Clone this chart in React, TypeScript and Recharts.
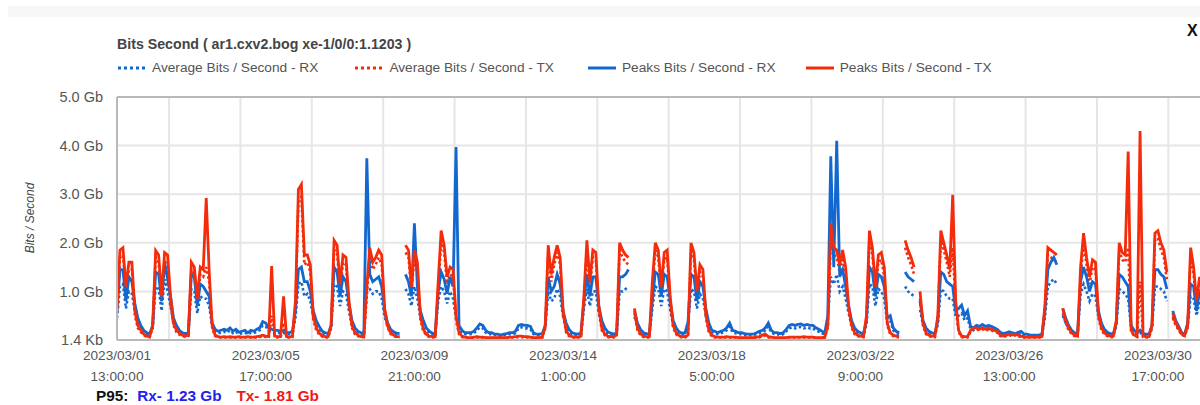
import { CartesianGrid, Line, LineChart, ReferenceLine, XAxis, YAxis } from 'recharts'

// hours counted from 2023-03-01 00:00, one sample every 2 hours
const START_HOUR = 13
const STEP_HOURS = 2
const END_HOUR = 741.3

const xTicks = [13, 113, 213, 313, 413, 513, 613, 713]
const xTickDates = ['2023/03/01', '2023/03/05', '2023/03/09', '2023/03/14', '2023/03/18', '2023/03/22', '2023/03/26', '2023/03/30']
const xTickTimes = ['13:00:00', '17:00:00', '21:00:00', '1:00:00', '5:00:00', '9:00:00', '13:00:00', '17:00:00']
// midnight of every other day (03/03 ... 03/31)
const gridHours = [48, 96, 144, 192, 240, 288, 336, 384, 432, 480, 528, 576, 624, 672, 720]
const yTicks = [0, 1, 2, 3, 4, 5]
const yTickLabels = ['1.4 Kb', '1.0 Gb', '2.0 Gb', '3.0 Gb', '4.0 Gb', '5.0 Gb']

// Gb, rows = days, columns = 01,03,...,23 h (03/01 starts at 13h, 03/31 ends at 21h)
const peakTx = [
  0.65, 1.85, 1.9, 1.1, 1.6, 1.6,
  0.6, 0.3, 0.2, 0.12, 0.08, 0.07, 0.3, 1.84, 1.75, 0.9, 1.8, 1.75,
  0.9, 0.35, 0.2, 0.14, 0.1, 0.08, 0.1, 1.6, 1.5, 0.85, 1.5, 1.45,
  2.92, 1.4, 0.3, 0.1, 0.07, 0.06, 0.07, 0.06, 0.07, 0.06, 0.06, 0.07,
  0.06, 0.06, 0.07, 0.06, 0.06, 0.07, 0.08, 0.1, 0.08, 0.07, 1.52, 0.08,
  0.07, 0.07, 0.9, 0.07, 0.06, 0.08, 0.8, 3.1, 3.2, 1.75, 1.75, 1.55,
  0.5, 0.25, 0.14, 0.09, 0.07, 0.07, 0.3, 2.05, 1.95, 1.15, 1.75, 1.7,
  0.8, 0.3, 0.15, 0.1, 0.07, 0.07, 1.1, 1.9, 1.6, 1.7, 1.85, 1.75,
  0.65, 0.3, 0.15, 0.1, 0.07, 0.07, null, 1.95, 1.85, 1.1, 1.85, 1.6,
  0.5, 0.22, 0.12, 0.08, 0.07, 0.07, 1.2, 2.25, 1.95, 1.3, 1.5, 1.45,
  0.5, 0.15, 0.08, 0.06, 0.05, 0.05, 0.06, 0.07, 0.06, 0.06, 0.05, 0.05,
  0.05, 0.05, 0.05, 0.05, 0.05, 0.05, 0.06, 0.06, 0.07, 0.08, 0.08, 0.07,
  0.07, 0.06, 0.05, 0.05, 0.05, 0.06, 0.3, 1.95, 1.35, 1.7, 1.95, 1.7,
  0.6, 0.2, 0.1, 0.07, 0.06, 0.06, 0.08, 0.9, 2.05, 1.2, 1.85, 1.8,
  0.7, 0.25, 0.12, 0.08, 0.07, 0.07, 0.1, 2.0, 1.85, 1.75, 1.7, null,
  0.65, 0.25, 0.13, 0.08, 0.07, 0.07, 1.2, 2.0, 1.85, 1.1, 1.8, 1.85,
  0.9, 0.3, 0.15, 0.09, 0.07, 0.07, 0.1, 2.0, 1.8, 1.0, 1.55, 1.45,
  0.55, 0.2, 0.1, 0.07, 0.06, 0.06, 0.06, 0.07, 0.06, 0.06, 0.06, 0.05,
  0.05, 0.05, 0.05, 0.05, 0.05, 0.06, 0.07, 0.1, 0.12, 0.07, 0.06, 0.05,
  0.05, 0.05, 0.05, 0.05, 0.06, 0.06, 0.06, 0.06, 0.06, 0.07, 0.06, 0.06,
  0.06, 0.05, 0.05, 0.05, 0.06, 0.3, 2.4, 1.9, 1.85, 1.55, 1.85, 1.5,
  0.7, 0.3, 0.15, 0.1, 0.08, 0.07, 0.5, 2.25, 1.9, 1.1, 1.75, 1.8,
  1.5, 0.35, 0.15, 0.1, 0.08, 0.08, null, 2.05, 1.85, 1.7, 1.5, null,
  1.0, 0.35, 0.15, 0.1, 0.08, 0.08, 0.5, 2.25, 2.0, 1.75, 1.45, 2.99,
  0.8, 0.2, 0.08, 0.07, 0.07, 0.2, 0.25, 0.25, 0.22, 0.25, 0.22, 0.24,
  0.22, 0.2, 0.18, 0.1, 0.08, 0.1, 0.12, 0.1, 0.12, 0.1, 0.08, 0.06,
  0.06, 0.06, 0.06, 0.06, 0.06, 0.07, 0.7, 1.9, 1.85, 1.8, 1.75, null,
  0.65, 0.4, 0.25, 0.15, 0.1, 0.08, 1.5, 2.2, 1.7, 1.3, 1.65, 1.6,
  0.55, 0.25, 0.15, 0.1, 0.08, 0.08, 0.4, 2.0, 1.8, 1.75, 3.88, 0.2,
  0.1, 0.08, 4.3, 0.08, 0.07, 0.07, 0.3, 2.2, 2.25, 2.0, 1.85, 1.4,
  null, 0.55, 0.35, 0.25, 0.12, 0.1, 0.3, 1.9, 1.5, 0.8, 1.3,
]

const avgTx = [
  0.55, 1.7, 1.75, 1.0, 1.45, 1.45,
  0.5, 0.25, 0.16, 0.1, 0.06, 0.06, 0.25, 1.7, 1.6, 0.8, 1.65, 1.6,
  0.75, 0.3, 0.16, 0.11, 0.08, 0.06, 0.08, 1.45, 1.35, 0.75, 1.35, 1.3,
  1.5, 1.2, 0.25, 0.08, 0.05, 0.05, 0.05, 0.05, 0.05, 0.05, 0.05, 0.05,
  0.05, 0.05, 0.05, 0.05, 0.05, 0.05, 0.06, 0.08, 0.06, 0.05, 0.5, 0.06,
  0.05, 0.05, 0.35, 0.05, 0.05, 0.06, 0.65, 2.85, 2.95, 1.55, 1.6, 1.4,
  0.42, 0.2, 0.11, 0.07, 0.05, 0.05, 0.25, 1.85, 1.8, 1.0, 1.6, 1.55,
  0.65, 0.25, 0.12, 0.08, 0.06, 0.06, 0.9, 1.75, 1.45, 1.55, 1.7, 1.55,
  0.55, 0.25, 0.12, 0.08, 0.06, 0.06, null, 1.8, 1.7, 1.0, 1.7, 1.45,
  0.42, 0.18, 0.1, 0.06, 0.05, 0.05, 1.0, 2.05, 1.8, 1.15, 1.35, 1.3,
  0.4, 0.12, 0.06, 0.05, 0.04, 0.04, 0.05, 0.05, 0.05, 0.05, 0.04, 0.04,
  0.04, 0.04, 0.04, 0.04, 0.04, 0.04, 0.05, 0.05, 0.05, 0.06, 0.06, 0.05,
  0.05, 0.05, 0.04, 0.04, 0.04, 0.05, 0.25, 1.8, 1.2, 1.55, 1.8, 1.55,
  0.5, 0.16, 0.08, 0.05, 0.05, 0.05, 0.06, 0.75, 1.9, 1.05, 1.7, 1.65,
  0.58, 0.2, 0.1, 0.06, 0.05, 0.05, 0.08, 1.85, 1.7, 1.6, 1.55, null,
  0.55, 0.2, 0.1, 0.06, 0.05, 0.05, 1.0, 1.85, 1.7, 1.0, 1.65, 1.7,
  0.75, 0.25, 0.12, 0.07, 0.05, 0.05, 0.08, 1.85, 1.65, 0.9, 1.4, 1.3,
  0.45, 0.16, 0.08, 0.05, 0.05, 0.05, 0.05, 0.05, 0.05, 0.05, 0.05, 0.04,
  0.04, 0.04, 0.04, 0.04, 0.04, 0.05, 0.05, 0.08, 0.09, 0.05, 0.05, 0.04,
  0.04, 0.04, 0.04, 0.04, 0.05, 0.05, 0.05, 0.05, 0.05, 0.05, 0.05, 0.05,
  0.05, 0.04, 0.04, 0.04, 0.05, 0.25, 2.0, 1.75, 1.7, 1.4, 1.7, 1.35,
  0.6, 0.25, 0.12, 0.08, 0.06, 0.06, 0.4, 2.05, 1.75, 1.0, 1.6, 1.65,
  1.3, 0.3, 0.12, 0.08, 0.06, 0.06, null, 1.9, 1.7, 1.55, 1.35, null,
  0.85, 0.3, 0.12, 0.08, 0.06, 0.06, 0.4, 2.05, 1.85, 1.6, 1.3, 1.9,
  0.65, 0.16, 0.06, 0.05, 0.05, 0.17, 0.22, 0.22, 0.2, 0.22, 0.2, 0.21,
  0.2, 0.17, 0.15, 0.08, 0.06, 0.08, 0.1, 0.08, 0.1, 0.08, 0.06, 0.05,
  0.05, 0.05, 0.05, 0.05, 0.05, 0.05, 0.6, 1.75, 1.7, 1.65, 1.6, null,
  0.55, 0.35, 0.2, 0.12, 0.08, 0.06, 1.3, 2.0, 1.55, 1.15, 1.5, 1.45,
  0.45, 0.2, 0.12, 0.08, 0.06, 0.06, 0.35, 1.85, 1.65, 1.6, 1.9, 0.17,
  0.08, 0.06, 1.2, 0.06, 0.05, 0.05, 0.25, 2.05, 2.1, 1.85, 1.7, 1.25,
  null, 0.45, 0.3, 0.2, 0.1, 0.08, 0.25, 1.75, 1.35, 0.7, 1.15,
]

const peakRx = [
  0.6, 1.45, 1.45, 0.8, 1.3, 1.2,
  0.75, 0.45, 0.3, 0.2, 0.15, 0.13, 0.3, 1.4, 1.35, 0.8, 1.6, 1.25,
  0.9, 0.45, 0.3, 0.2, 0.15, 0.13, 0.15, 1.35, 1.3, 0.7, 1.15, 1.1,
  1.0, 0.9, 0.35, 0.22, 0.18, 0.2, 0.22, 0.2, 0.25, 0.18, 0.22, 0.16,
  0.18, 0.2, 0.15, 0.2, 0.18, 0.22, 0.25, 0.38, 0.35, 0.25, 0.22, 0.2,
  0.2, 0.18, 0.2, 0.15, 0.15, 0.18, 0.6, 1.45, 1.5, 1.2, 1.2, 1.0,
  0.6, 0.4, 0.28, 0.18, 0.15, 0.13, 0.3, 1.5, 1.4, 0.9, 1.3, 1.2,
  0.75, 0.4, 0.25, 0.18, 0.15, 0.13, 3.74, 1.35, 1.2, 1.25, 1.3, 1.1,
  0.6, 0.35, 0.22, 0.17, 0.14, 0.13, null, 1.35, 1.2, 0.9, 2.4, 1.1,
  0.6, 0.4, 0.25, 0.18, 0.14, 0.12, 1.0, 1.4, 1.25, 0.95, 1.3, 1.1,
  3.97, 0.3, 0.2, 0.15, 0.15, 0.15, 0.18, 0.25, 0.33, 0.3, 0.2, 0.15,
  0.15, 0.12, 0.12, 0.1, 0.12, 0.13, 0.15, 0.15, 0.18, 0.3, 0.32, 0.3,
  0.3, 0.28, 0.15, 0.12, 0.12, 0.13, 0.3, 1.3, 1.0, 1.1, 1.35, 1.15,
  0.6, 0.35, 0.22, 0.15, 0.13, 0.12, 0.15, 0.8, 1.35, 0.9, 1.3, 1.3,
  0.7, 0.4, 0.25, 0.17, 0.14, 0.12, 0.15, 1.3, 1.3, 1.35, 1.45, null,
  0.6, 0.35, 0.22, 0.15, 0.13, 0.12, 0.8, 1.4, 1.35, 0.9, 1.35, 1.3,
  0.8, 0.4, 0.25, 0.17, 0.14, 0.15, 0.37, 1.35, 1.3, 0.8, 1.2, 1.1,
  0.65, 0.35, 0.2, 0.18, 0.15, 0.18, 0.2, 0.25, 0.35, 0.2, 0.18, 0.15,
  0.15, 0.13, 0.12, 0.12, 0.12, 0.15, 0.18, 0.2, 0.25, 0.35, 0.2, 0.15,
  0.15, 0.13, 0.15, 0.22, 0.3, 0.32, 0.3, 0.32, 0.33, 0.3, 0.32, 0.3,
  0.3, 0.25, 0.22, 0.18, 0.15, 0.5, 3.78, 1.5, 4.1, 1.3, 1.45, 1.1,
  0.7, 0.4, 0.25, 0.18, 0.15, 0.13, 0.4, 1.5, 1.4, 0.9, 1.35, 1.3,
  1.1, 0.45, 0.5, 0.25, 0.18, 0.15, null, 1.4, 1.3, 1.25, 1.2, null,
  0.8, 0.4, 0.25, 0.18, 0.15, 0.13, 0.4, 1.4, 1.35, 1.2, 1.15, 1.1,
  0.6, 0.65, 0.72, 0.5, 0.6, 0.28, 0.25, 0.3, 0.28, 0.32, 0.28, 0.3,
  0.28, 0.25, 0.22, 0.16, 0.13, 0.15, 0.17, 0.15, 0.13, 0.16, 0.18, 0.12,
  0.12, 0.1, 0.1, 0.1, 0.1, 0.12, 0.6, 1.45, 1.6, 1.7, 1.55, null,
  0.65, 0.45, 0.3, 0.2, 0.15, 0.13, 1.2, 1.5, 1.3, 1.0, 1.2, 1.15,
  0.6, 0.35, 0.22, 0.16, 0.13, 0.12, 0.35, 1.35, 1.3, 1.2, 1.1, 0.3,
  0.2, 0.15, 0.2, 0.13, 0.12, 0.12, 0.3, 1.45, 1.45, 1.35, 1.3, 1.05,
  null, 0.6, 0.4, 0.28, 0.15, 0.12, 0.35, 1.15, 1.1, 0.6, 1.0,
]

const avgRx = [
  0.45, 1.1, 1.15, 0.65, 1.0, 0.95,
  0.6, 0.35, 0.24, 0.15, 0.12, 0.1, 0.25, 1.1, 1.05, 0.6, 1.25, 1.0,
  0.7, 0.35, 0.22, 0.15, 0.12, 0.1, 0.12, 1.05, 1.0, 0.55, 0.9, 0.85,
  0.85, 0.7, 0.28, 0.17, 0.14, 0.15, 0.17, 0.15, 0.2, 0.14, 0.17, 0.12,
  0.14, 0.15, 0.12, 0.15, 0.14, 0.17, 0.2, 0.3, 0.28, 0.2, 0.17, 0.15,
  0.15, 0.14, 0.15, 0.12, 0.12, 0.14, 0.45, 1.15, 1.2, 0.9, 0.95, 0.8,
  0.48, 0.32, 0.22, 0.14, 0.12, 0.1, 0.25, 1.15, 1.1, 0.7, 1.0, 0.95,
  0.6, 0.32, 0.2, 0.14, 0.12, 0.1, 1.1, 1.05, 0.95, 1.0, 1.0, 0.85,
  0.48, 0.28, 0.17, 0.13, 0.11, 0.1, null, 1.05, 0.95, 0.7, 1.1, 0.85,
  0.48, 0.32, 0.2, 0.14, 0.11, 0.1, 0.8, 1.1, 1.0, 0.75, 1.0, 0.85,
  0.45, 0.22, 0.15, 0.12, 0.12, 0.12, 0.14, 0.2, 0.26, 0.24, 0.15, 0.12,
  0.12, 0.1, 0.1, 0.08, 0.1, 0.1, 0.12, 0.12, 0.14, 0.24, 0.26, 0.24,
  0.24, 0.22, 0.12, 0.1, 0.1, 0.1, 0.24, 1.0, 0.8, 0.85, 1.05, 0.9,
  0.48, 0.28, 0.17, 0.12, 0.1, 0.1, 0.12, 0.65, 1.05, 0.7, 1.0, 1.0,
  0.55, 0.32, 0.2, 0.13, 0.11, 0.1, 0.12, 1.0, 1.0, 1.05, 1.1, null,
  0.48, 0.28, 0.17, 0.12, 0.1, 0.1, 0.65, 1.1, 1.05, 0.7, 1.05, 1.0,
  0.62, 0.32, 0.2, 0.13, 0.11, 0.12, 0.3, 1.05, 1.0, 0.65, 0.95, 0.85,
  0.5, 0.28, 0.16, 0.14, 0.12, 0.14, 0.16, 0.2, 0.28, 0.16, 0.14, 0.12,
  0.12, 0.1, 0.1, 0.1, 0.1, 0.12, 0.14, 0.16, 0.2, 0.28, 0.16, 0.12,
  0.12, 0.1, 0.12, 0.18, 0.24, 0.26, 0.24, 0.26, 0.27, 0.24, 0.26, 0.24,
  0.24, 0.2, 0.17, 0.14, 0.12, 0.4, 1.3, 1.15, 1.35, 1.0, 1.1, 0.85,
  0.55, 0.32, 0.2, 0.14, 0.12, 0.1, 0.32, 1.15, 1.1, 0.7, 1.05, 1.0,
  0.85, 0.35, 0.4, 0.2, 0.14, 0.12, null, 1.1, 1.0, 0.95, 0.9, null,
  0.62, 0.32, 0.2, 0.14, 0.12, 0.1, 0.32, 1.05, 1.0, 0.9, 0.85, 0.85,
  0.48, 0.5, 0.55, 0.4, 0.45, 0.22, 0.2, 0.24, 0.22, 0.25, 0.22, 0.24,
  0.22, 0.2, 0.17, 0.12, 0.1, 0.12, 0.13, 0.12, 0.1, 0.12, 0.14, 0.1,
  0.1, 0.08, 0.08, 0.08, 0.08, 0.1, 0.45, 1.1, 1.2, 1.25, 1.15, null,
  0.5, 0.35, 0.24, 0.16, 0.12, 0.1, 0.95, 1.15, 1.0, 0.8, 0.95, 0.9,
  0.48, 0.28, 0.17, 0.12, 0.1, 0.1, 0.28, 1.05, 1.0, 0.95, 0.85, 0.24,
  0.16, 0.12, 0.15, 0.1, 0.1, 0.1, 0.24, 1.1, 1.1, 1.05, 1.0, 0.8,
  null, 0.48, 0.32, 0.22, 0.12, 0.1, 0.28, 0.9, 0.85, 0.5, 0.8,
]

const BLUE = '#1368cf'
const RED = '#f42c0c'
const BORDER = '#b9b9b9'
const GRID = '#e6e6e6'
const FONT = '"Liberation Sans", Arial, sans-serif'

const data = peakTx.map((v, i) => ({
  t: START_HOUR + i * STEP_HOURS,
  avgRx: avgRx[i],
  avgTx: avgTx[i],
  peakRx: peakRx[i],
  peakTx: v,
}))

const legendItems = [
  { label: 'Average Bits / Second - RX', color: BLUE, dotted: true, gap: 36 },
  { label: 'Average Bits / Second - TX', color: RED, dotted: true, gap: 33 },
  { label: 'Peaks Bits / Second - RX', color: BLUE, dotted: false, gap: 29 },
  { label: 'Peaks Bits / Second - TX', color: RED, dotted: false, gap: 0 },
]

function DateTick({ x, y, payload }: any) {
  const i = xTicks.indexOf(payload.value)
  return (
    <text x={x} y={y} textAnchor="middle" fill="#555" fontSize={13.6} fontFamily={FONT}>
      <tspan x={x} dy={20}>{xTickDates[i]}</tspan>
      <tspan x={x} dy={21}>{xTickTimes[i]}</tspan>
    </text>
  )
}

const gridX = ({ xAxis, offset }: any) =>
  gridHours.map((h) =>
    xAxis && typeof xAxis.scale === 'function'
      ? xAxis.scale(h)
      : offset.left + ((h - START_HOUR) / (END_HOUR - START_HOUR)) * offset.width,
  )

export default function App() {
  return (
    <div style={{ position: 'fixed', left: 0, top: 0, width: 1200, height: 405, overflow: 'hidden', background: '#fff', fontFamily: FONT }}>
      <div style={{ position: 'absolute', left: 8, top: 6, width: 1192, height: 11, background: '#f7f7f7' }} />
      <div style={{ position: 'absolute', left: 1187, top: 22, fontSize: 16, fontWeight: 700, color: '#111', lineHeight: '18px' }}>X</div>
      <div style={{ position: 'absolute', left: 117, top: 36, fontSize: 14.2, fontWeight: 700, color: '#444', whiteSpace: 'nowrap' }}>
        Bits Second ( ar1.cxv2.bog xe-1/0/0:1.1203 )
      </div>
      <div style={{ position: 'absolute', left: 117, top: 60, display: 'flex', fontSize: 13.7, color: '#555', whiteSpace: 'nowrap' }}>
        {legendItems.map((item, i) => (
          <div key={i} style={{ display: 'flex', alignItems: 'center', marginRight: item.gap }}>
            <svg width={30} height={6} style={{ marginRight: 5 }}>
              <line x1={1} y1={3} x2={29} y2={3} stroke={item.color} strokeWidth={3} strokeDasharray={item.dotted ? '3 3' : undefined} />
            </svg>
            <span>{item.label}</span>
          </div>
        ))}
      </div>
      <div style={{ position: 'absolute', left: 30, top: 218, transform: 'translate(-50%, -50%) rotate(-90deg)', fontSize: 12, fontStyle: 'italic', color: '#444', whiteSpace: 'nowrap' }}>
        Bits / Second
      </div>
      <LineChart width={1200} height={405} data={data} margin={{ top: 97, right: 0, left: 0, bottom: 0 }}>
        <CartesianGrid stroke={GRID} strokeWidth={2} verticalCoordinatesGenerator={gridX} />
        <XAxis
          dataKey="t"
          type="number"
          domain={[START_HOUR, END_HOUR]}
          ticks={xTicks}
          interval={0}
          allowDataOverflow
          height={65}
          tickLine={false}
          tickSize={0}
          tickMargin={0}
          axisLine={{ stroke: BORDER, strokeWidth: 2 }}
          tick={<DateTick />}
        />
        <YAxis
          type="number"
          domain={[0, 5]}
          ticks={yTicks}
          interval={0}
          width={117}
          tickLine={false}
          tickSize={0}
          tickMargin={14}
          axisLine={{ stroke: BORDER, strokeWidth: 2 }}
          tick={{ fill: '#555', fontSize: 14.5 }}
          tickFormatter={(v) => yTickLabels[yTicks.indexOf(v)]}
        />
        <ReferenceLine y={5} stroke={BORDER} strokeWidth={2} />
        <Line type="linear" dataKey="avgRx" stroke={BLUE} strokeWidth={2.6} strokeDasharray="2.5 2.5" dot={false} isAnimationActive={false} />
        <Line type="linear" dataKey="avgTx" stroke={RED} strokeWidth={2.6} strokeDasharray="2.5 2.5" dot={false} isAnimationActive={false} />
        <Line type="linear" dataKey="peakRx" stroke={BLUE} strokeWidth={2.8} dot={false} isAnimationActive={false} />
        <Line type="linear" dataKey="peakTx" stroke={RED} strokeWidth={2.8} dot={false} isAnimationActive={false} />
      </LineChart>
      <div style={{ position: 'absolute', left: 96, top: 387, fontSize: 15.3, lineHeight: '17px', fontWeight: 700, whiteSpace: 'nowrap' }}>
        <span style={{ color: '#111' }}>P95:</span>
        <span style={{ color: '#2222ee', marginLeft: 9 }}>Rx- 1.23 Gb</span>
        <span style={{ color: '#f01818', marginLeft: 15 }}>Tx- 1.81 Gb</span>
      </div>
    </div>
  )
}
